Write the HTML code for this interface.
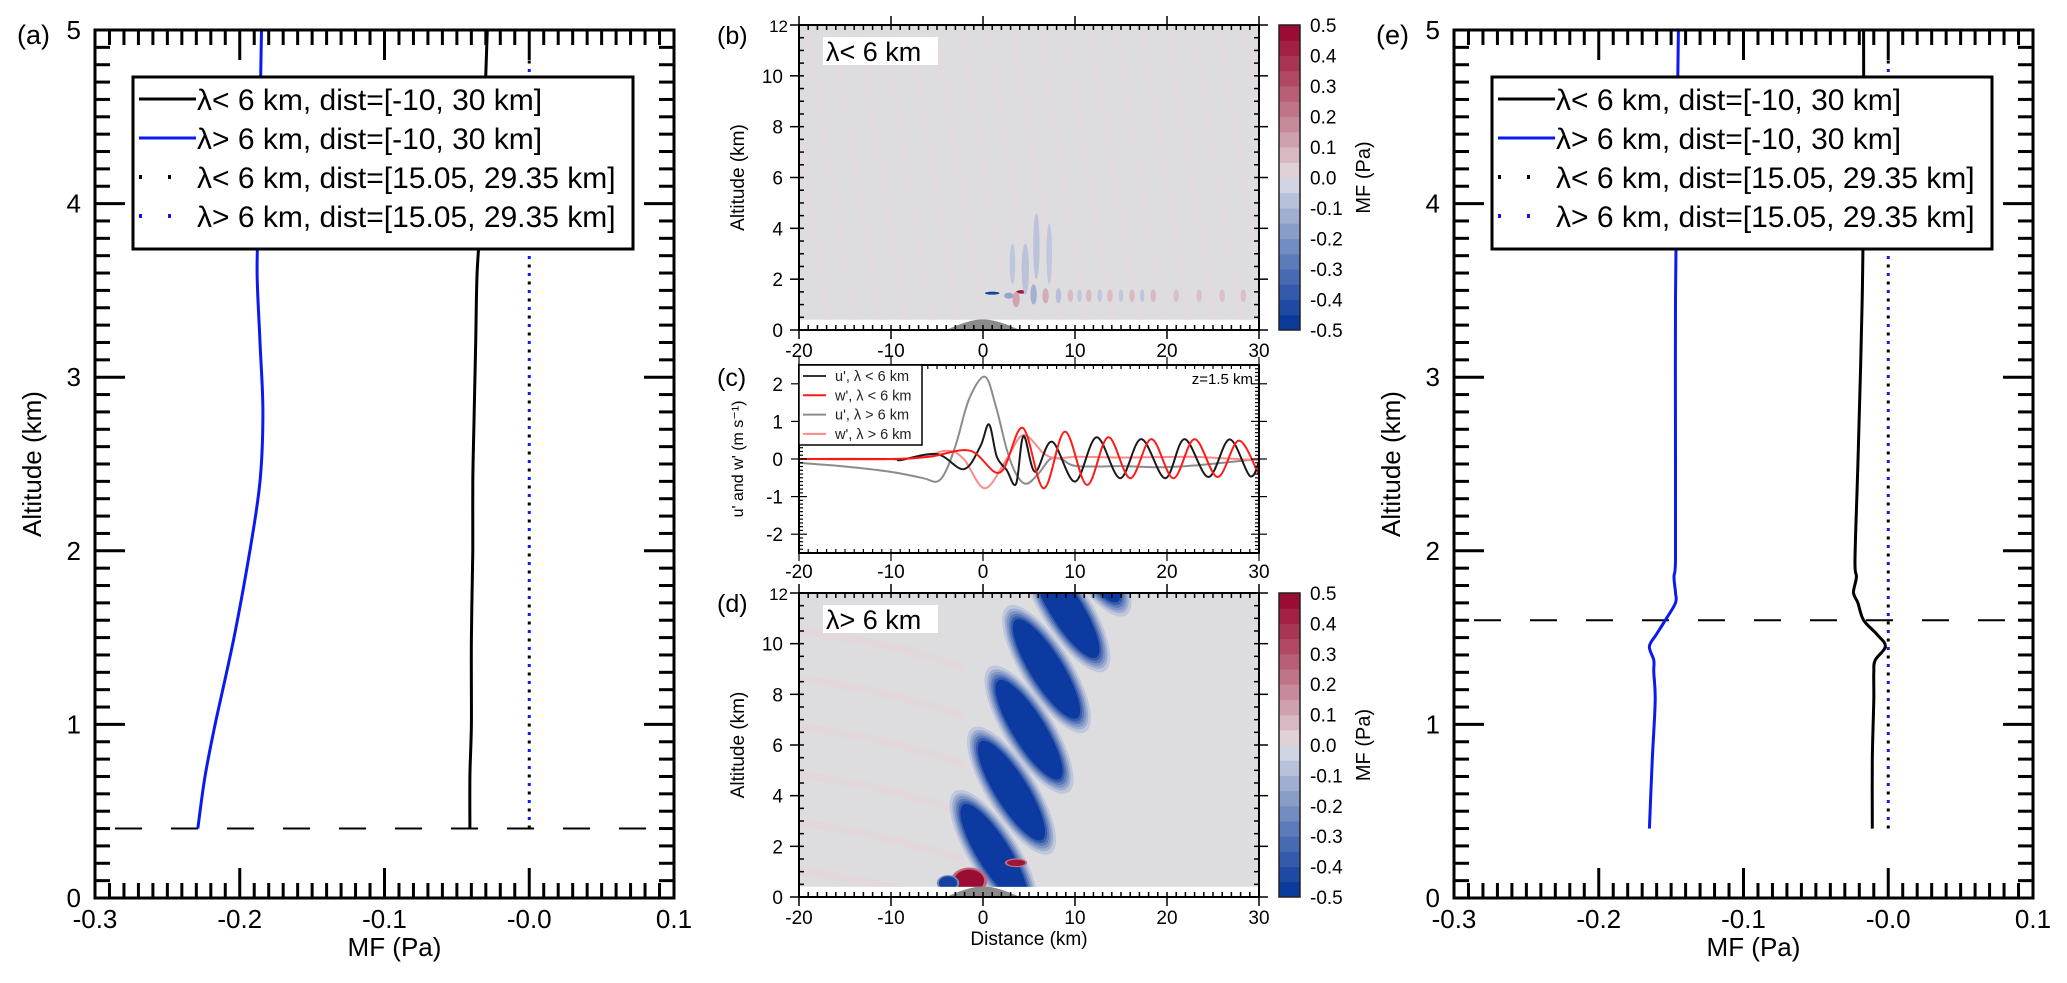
<!DOCTYPE html>
<html><head><meta charset="utf-8">
<style>
html,body{margin:0;padding:0;background:#fff;}
svg{display:block;font-family:"Liberation Sans","DejaVu Sans",sans-serif;}
</style></head>
<body>
<svg id="fig" width="2067" height="983" viewBox="0 0 2067 983" xmlns="http://www.w3.org/2000/svg"></svg>
<script>
// ---------- Panel (a) data ----------
const aZ      = [0.4, 0.7, 1.0, 1.5, 2.0, 2.4, 2.8, 3.2, 3.6, 4.0, 4.5, 5.0];
const aBlue   = [-0.229,-0.224,-0.217,-0.204,-0.193,-0.186,-0.184,-0.186,-0.188,-0.187,-0.186,-0.185];
const aBlack  = [-0.041,-0.041,-0.040,-0.040,-0.039,-0.039,-0.038,-0.037,-0.036,-0.033,-0.031,-0.029];
const aDotZ   = [0.4, 4.85];
const aDotX   = [0.0, 0.0];
const aDashZ  = 0.4;
// ---------- Panel (e) data ----------
const eZ      = [0.4, 0.8, 1.14, 1.3, 1.37, 1.45, 1.52, 1.6, 1.7, 1.76, 1.85, 1.95, 2.5, 3.45, 4.3, 5.0];
const eBlack  = [-0.011,-0.011,-0.010,-0.010,-0.009,-0.002,-0.008,-0.017,-0.021,-0.024,-0.022,-0.023,-0.021,-0.018,-0.017,-0.017];
const eBlue   = [-0.165,-0.163,-0.161,-0.162,-0.162,-0.165,-0.160,-0.154,-0.147,-0.147,-0.148,-0.147,-0.147,-0.147,-0.146,-0.145];
const eDotZ   = [0.4, 4.85];
const eDotX   = [0.0, 0.0];
const eDashZ  = 1.6;
// ---------- Panel (c) data ----------
const cGrayX  = [-20,-15,-10.1,-6.5,-5.0,-4.0,-2.9,-1.5,0.2,1.4,2.6,3.6,4.7,6.0,7.3,8.5,10.2,15.2,18.9,22.5,26.1,30];
const cGrayY  = [-0.1,-0.2,-0.34,-0.51,-0.6,-0.3,0.42,1.6,2.19,1.4,0.24,-0.4,-0.66,-0.4,0,0,-0.19,-0.19,-0.22,-0.18,-0.1,0];
const cBlackX = [-20,-10,-9,-5.0,-2.1,-0.3,0.65,1.5,2.57,3.6,4.4,5.65,7.5,10.0,12.35,14.9,17.2,19.8,21.9,24.5,26.8,29.0,30];
const cBlackY = [0,0,-0.03,0.13,-0.27,0.33,0.92,0.06,-0.29,-0.66,0.61,-0.34,0.46,-0.6,0.58,-0.51,0.53,-0.51,0.53,-0.48,0.52,-0.45,-0.07];
const cRedX   = [-20,-10,-5.8,-1.4,1.85,4.3,6.6,8.9,11.3,13.6,16.0,18.3,20.7,23.0,25.5,27.8,30];
const cRedY   = [0,0,0.06,0.22,-0.36,0.83,-0.78,0.73,-0.69,0.58,-0.51,0.53,-0.51,0.53,-0.48,0.49,-0.43];
const cPinkX  = [-20,-8,-4,-2.1,0.2,2.57,4.4,6.6,8.0,10.2,15.2,22.5,26,30];
const cPinkY  = [0,0.01,0.22,0,-0.78,0,0.64,0.15,0.02,0.06,0.04,0.06,0.02,-0.03];
// ---------- Panel (b) features: x(km), z(km), MF(Pa), half-width(km), half-height(km) ----------
const bX  = [1.0, 2.8, 4.2, 5.5, 6.8, 8.2, 4.6, 3.6, 9.5, 11.5, 13.8, 16.2, 18.5, 21, 23.5, 26, 28.3, 10.5, 12.7, 15, 17.3, 5.8, 7.2, 3.2];
const bZ  = [1.45,1.35,1.5, 1.4, 1.35,1.35,2.4, 1.2, 1.35,1.35, 1.35, 1.35, 1.35,1.35,1.35,1.35,1.35, 1.35, 1.35, 1.35, 1.35, 3.3, 3.0, 2.6];
const bV  = [-0.45,-0.15,0.45,-0.12,0.1,-0.08,-0.07,0.12, 0.07, 0.07, 0.07, 0.07, 0.07,0.06,0.06,0.06,0.06,-0.06,-0.06,-0.06,-0.06,-0.07,-0.06,-0.06];
const bRX = [0.8, 0.5, 0.6, 0.35,0.35,0.3, 0.4, 0.4, 0.3, 0.3, 0.3, 0.3, 0.3, 0.3,0.3,0.3,0.3, 0.25,0.25,0.25,0.25,0.35,0.3,0.3];
const bRZ = [0.06,0.12,0.07,0.4, 0.3, 0.3, 1.0, 0.3, 0.25,0.25, 0.25, 0.25, 0.25,0.25,0.25,0.25,0.25, 0.25,0.25,0.25,0.25,1.3,1.2,0.8];
// ---------- Panel (d) features ----------
const dX  = [1.2, 3.1, 5.0, 6.9, 9.0, 11.3, -1.5, 3.6, -3.8];
const dZ  = [1.7, 4.2, 6.6, 9.0, 11.4, 13.6, 0.65, 1.35, 0.55];
const dV  = [-0.5,-0.5,-0.5,-0.5,-0.5,-0.5, 0.5, 0.45,-0.45];
// ---------- Colorbar ----------
const cbTicks = ["0.5","0.4","0.3","0.2","0.1","0.0","-0.1","-0.2","-0.3","-0.4","-0.5"];
const cbLevels = [-0.5,-0.45,-0.4,-0.35,-0.3,-0.25,-0.2,-0.15,-0.1,-0.05,0,0.05,0.1,0.15,0.2,0.25,0.3,0.35,0.4,0.45];
// ---------- Axis tick labels ----------
const aeXTicks = [-0.3,-0.2,-0.1,0.0,0.1];
const aeXLabels = ["-0.3","-0.2","-0.1","-0.0","0.1"];
const aeYTicks = [0,1,2,3,4,5];
const bdXTicks = [-20,-10,0,10,20,30];
const bdYTicks = [0,2,4,6,8,10,12];
const cYTicks = [2,1,0,-1,-2];

const NS="http://www.w3.org/2000/svg";
const fig=document.getElementById('fig');
function mk(tag,attrs,parent){const el=document.createElementNS(NS,tag);for(const k in attrs)el.setAttribute(k,attrs[k]);(parent||fig).appendChild(el);return el;}
function txt(s,attrs,parent){const t=mk('text',attrs,parent);t.textContent=s;return t;}
function smooth(pts){
  if(pts.length<3){return 'M'+pts.map(p=>p[0].toFixed(1)+','+p[1].toFixed(1)).join('L');}
  let d='M'+pts[0][0].toFixed(1)+','+pts[0][1].toFixed(1);
  for(let i=0;i<pts.length-1;i++){
    const p0=pts[i-1]||pts[i],p1=pts[i],p2=pts[i+1],p3=pts[i+2]||p2;
    const c1=[p1[0]+(p2[0]-p0[0])/6,p1[1]+(p2[1]-p0[1])/6];
    const c2=[p2[0]-(p3[0]-p1[0])/6,p2[1]-(p3[1]-p1[1])/6];
    d+='C'+c1[0].toFixed(1)+','+c1[1].toFixed(1)+' '+c2[0].toFixed(1)+','+c2[1].toFixed(1)+' '+p2[0].toFixed(1)+','+p2[1].toFixed(1);
  }
  return d;
}
function lerp(a,b,t){return a.map((v,i)=>Math.round(v+(b[i]-v)*t));}
function color(v){
  const neg0=[224,225,232],negE=[10,58,156],pos0=[230,224,226],posE=[155,12,50];
  if(v<0){const t=Math.min(1,(-v)/0.475);return 'rgb('+lerp(neg0,negE,Math.pow(t,0.9)).join(',')+')';}
  const t=Math.min(1,v/0.475);return 'rgb('+lerp(pos0,posE,Math.pow(t,0.9)).join(',')+')';
}
const BG='rgb(221,221,223)';

// ============ Panels (a) and (e) ============
function profilePanel(ox,name,label,Z,Blue,Black,DotZ,DotX,dashZ){
  const L=ox,R=ox+579,T=30,B=898;
  const g=mk('g',{});
  
  
  const X=v=>L+(v+0.3)/0.4*579, Y=z=>B-z*173.6;
  const dash=mk('line',{x1:L,x2:R,y1:Y(dashZ),y2:Y(dashZ),stroke:'#000','stroke-width':2,'stroke-dasharray':'27 29','stroke-dashoffset':-20},g);
  
  
  const bl=mk('path',{d:smooth(Z.map((z,i)=>[X(Blue[i]),Y(z)])),fill:'none',stroke:'#0a1af0','stroke-width':3},g);
  
  
  const bk=mk('path',{d:smooth(Z.map((z,i)=>[X(Black[i]),Y(z)])),fill:'none',stroke:'#000','stroke-width':3},g);
  
  
  const dk=mk('line',{x1:X(DotX[0]),x2:X(DotX[1]),y1:Y(DotZ[0]),y2:Y(DotZ[1]),stroke:'#000','stroke-width':3,'stroke-dasharray':'3 14'},g);
  
  
  const db=mk('line',{x1:X(DotX[0]),x2:X(DotX[1]),y1:Y(DotZ[0]),y2:Y(DotZ[1]),stroke:'#0a1af0','stroke-width':3,'stroke-dasharray':'3 14','stroke-dashoffset':8.5},g);
  
  
  const tg=mk('g',{stroke:'#000','stroke-width':3},g);
  
  
  for(let i=0;i<=40;i++){const x=L+i*579/40;const len=(i%10===0)?30:15;
    mk('line',{x1:x,x2:x,y1:B,y2:B-len},tg);mk('line',{x1:x,x2:x,y1:T,y2:T+len},tg);}
  for(let i=0;i<=50;i++){const y=B-i*173.6/10;const len=(i%10===0)?30:15;
    mk('line',{x1:L,x2:L+len,y1:y,y2:y},tg);mk('line',{x1:R,x2:R-len,y1:y,y2:y},tg);}
  const fr=mk('rect',{x:L,y:T,width:579,height:B-T,fill:'none',stroke:'#000','stroke-width':3},g);
  
  
  aeXTicks.forEach((v,i)=>{const t=txt(aeXLabels[i],{x:X(v),y:928,'font-size':26,'text-anchor':'middle'},g);
    
    });
  aeYTicks.forEach(v=>{const t=txt(String(v),{x:L-14,y:Y(v)+9,'font-size':26,'text-anchor':'end'},g);
    
    });
  const xl=txt('MF (Pa)',{x:(L+R)/2+10,y:956,'font-size':26,'text-anchor':'middle'},g);
  
  
  const yl=txt('Altitude (km)',{x:0,y:0,'font-size':26,'text-anchor':'middle',transform:'translate('+(L-54)+','+((T+B)/2)+') rotate(-90)'},g);
  
  
  const pl=txt(label,{x:L-78,y:44,'font-size':27},g);
  
  
  const lg=mk('g',{},g);
  
  
  const lx=L+38;
  mk('rect',{x:lx,y:77,width:500,height:172,fill:'#fff',stroke:'#000','stroke-width':3},lg);
  const rows=[['λ< 6 km, dist=[-10, 30 km]','#000',''],['λ> 6 km, dist=[-10, 30 km]','#0a1af0',''],
              ['λ< 6 km, dist=[15.05, 29.35 km]','#000','3 26'],['λ> 6 km, dist=[15.05, 29.35 km]','#0a1af0','3 26']];
  rows.forEach((r,i)=>{const y=99+i*39;
    const e=mk('g',{},lg);
    
    
    mk('line',{x1:lx+6,x2:lx+63,y1:y,y2:y,stroke:r[1],'stroke-width':r[2]?4:3,'stroke-dasharray':r[2]||'none'},e);
    txt(r[0],{x:lx+64,y:y+11,'font-size':30},e);});
}
profilePanel(95,'panel-a','(a)',aZ,aBlue,aBlack,aDotZ,aDotX,aDashZ);
profilePanel(1454,'panel-e','(e)',eZ,eBlue,eBlack,eDotZ,eDotX,eDashZ);

// ============ Contour panels (b) and (d) ============
const xB=d=>799+(d+20)*9.2;
function colorbar(T,B,name){
  const g=mk('g',{});
  
  
  const h=(B-T)/cbLevels.length;
  cbLevels.forEach((lv,i)=>{mk('rect',{x:1279,y:B-(i+1)*h,width:21,height:h+0.5,fill:color(lv+0.025)},g);});
  mk('rect',{x:1279,y:T,width:21,height:B-T,fill:'none',stroke:'#222','stroke-width':1.5},g);
  cbTicks.forEach((s,i)=>{const t=txt(s,{x:1310,y:T+i*(B-T)/10+7,'font-size':19},g);
    
    });
  const tl=txt('MF (Pa)',{x:0,y:0,'font-size':20,'text-anchor':'middle',transform:'translate(1370,'+((T+B)/2)+') rotate(-90)'},g);
  
  
}
function contourFrame(T,B,name,label,tag,xlabels,xtitle){
  const g=mk('g',{});
  
  
  const Y=z=>B-z*(B-T)/12;
  const mt=mk('path',{d:'M'+xB(-4)+','+B+' Q'+xB(-1.5)+','+(Y(0.42))+' '+xB(0)+','+Y(0.42)+' Q'+xB(1.5)+','+Y(0.42)+' '+xB(4)+','+B+'Z',fill:'#8a8a8a'},g);
  
  
  const tg=mk('g',{stroke:'#000','stroke-width':1.5},g);
  for(let d=-20;d<=30;d++){const x=xB(d);const maj=d%10===0;
    mk('line',{x1:x,x2:x,y1:B+(maj?9:0),y2:B-5},tg);mk('line',{x1:x,x2:x,y1:T-(maj?9:0),y2:T+5},tg);}
  for(let z=0;z<=24;z++){const y=Y(z/2);const maj=z%4===0;
    mk('line',{x1:799-(maj?9:0),x2:804,y1:y,y2:y},tg);mk('line',{x1:1259+(maj?9:0),x2:1254,y1:y,y2:y},tg);}
  mk('rect',{x:799,y:T,width:460,height:B-T,fill:'none',stroke:'#000','stroke-width':2},g);
  bdYTicks.forEach(v=>{const t=txt(String(v),{x:v===12?788:783,y:Y(v)+7,'font-size':v===12?17:19,'text-anchor':'end'},g);
    
    });
  if(xlabels){bdXTicks.forEach(v=>{const t=txt(String(v),{x:xB(v),y:B+27,'font-size':19,'text-anchor':'middle'},g);
    
    });}
  if(xtitle){const t=txt('Distance (km)',{x:xB(5),y:B+48,'font-size':19,'text-anchor':'middle'},g);
    
    }
  const yl=txt('Altitude (km)',{x:0,y:0,'font-size':19,'text-anchor':'middle',transform:'translate(744,'+((T+B)/2)+') rotate(-90)'},g);
  
  
  const pl=txt(label,{x:717,y:T+19,'font-size':25},g);
  
  
  mk('rect',{x:823,y:T+12,width:115,height:28,fill:'#fff'},g);
  const tt=txt(tag,{x:826,y:T+36,'font-size':27},g);
  
  
}
// panel b
(function(){
  const T=25,B=330,Y=z=>B-z*(B-T)/12;
  const g=mk('g',{});
  
  
  const cp=mk('clipPath',{id:'clipb'},g);mk('rect',{x:799,y:T,width:460,height:Y(0.4)-T},cp);
  const inner=mk('g',{'clip-path':'url(#clipb)'},g);
  mk('rect',{x:799,y:T,width:460,height:B-T,fill:BG},inner);
  for(let i=0;i<20;i++){const x0=xB(-22+i*2.8);mk('path',{d:'M'+x0+','+T+' L'+(x0+50)+','+B,stroke:'rgb(226,219,222)','stroke-width':5,fill:'none',opacity:0.8},inner);}
  bX.forEach((x,i)=>{const e=mk('ellipse',{cx:xB(x),cy:Y(bZ[i]),rx:bRX[i]*9.2,ry:bRZ[i]*(B-T)/12,fill:color(bV[i])},inner);
    
    });
  mk('rect',{x:799,y:Y(0.4),width:460,height:B-Y(0.4),fill:'#fff'},g);
  contourFrame(T,B,'panel-b','(b)','λ< 6 km',true,false);
  colorbar(T,B,'colorbar-b');
})();
// panel d
(function(){
  const T=593,B=897,Y=z=>B-z*(B-T)/12;
  const g=mk('g',{});
  
  
  const cp=mk('clipPath',{id:'clipd'},g);mk('rect',{x:799,y:T,width:460,height:Y(0.4)-T},cp);
  const inner=mk('g',{'clip-path':'url(#clipd)'},g);
  mk('rect',{x:799,y:T,width:460,height:B-T,fill:BG},inner);
  for(let i=0;i<6;i++){mk('path',{d:'M'+xB(-20)+','+Y(1+i*1.9)+' Q'+xB(-10)+','+Y(0.6+i*1.9)+' '+xB(-2)+','+Y(-0.5+i*1.9),stroke:'rgb(226,216,220)','stroke-width':8,fill:'none'},inner);}
  dX.forEach((x,i)=>{
    const v=dV[i];const cx=xB(x),cy=Y(dZ[i]);
    const big=v<=-0.5;
    const grp=mk('g',{transform:'translate('+cx+','+cy+') rotate('+(big?58:0)+')'},inner);
    
    
    if(big){
      const halos=[[16,-0.06],[12,-0.13],[9,-0.2],[6,-0.28],[3,-0.37]];
      halos.forEach(s=>mk('ellipse',{cx:0,cy:0,rx:58+s[0],ry:16+s[0]*0.55,fill:color(s[1])},grp));
      mk('ellipse',{cx:0,cy:0,rx:58,ry:16,fill:'rgb(12,58,160)'},grp);
    } else {
      const r=v>0?(i===6?13:8):8;
      mk('ellipse',{cx:0,cy:0,rx:r*1.4,ry:r*(i===7?0.55:1.0),fill:color(v*0.5)},grp);
      mk('ellipse',{cx:0,cy:0,rx:r*1.15,ry:r*(i===7?0.4:0.85),fill:color(v)},grp);
    }
  });
  mk('rect',{x:799,y:Y(0.4),width:460,height:B-Y(0.4),fill:'#fff'},g);
  contourFrame(T,B,'panel-d','(d)','λ> 6 km',true,true);
  colorbar(T,B,'colorbar-d');
})();

// ============ Panel (c) ============
(function(){
  const T=365,B=553,Y=v=>459-v*37.6;
  const g=mk('g',{});
  
  
  const cp=mk('clipPath',{id:'clipc'},g);mk('rect',{x:799,y:T,width:460,height:B-T},cp);
  const inner=mk('g',{'clip-path':'url(#clipc)'},g);
  const series=[[cGrayX,cGrayY,'#8c8c8c','line-u-lambda-gt-6km'],[cPinkX,cPinkY,'#ff8a8a','line-w-lambda-gt-6km'],
                [cBlackX,cBlackY,'#1a1a1a','line-u-lambda-lt-6km'],[cRedX,cRedY,'#ff1a1a','line-w-lambda-lt-6km']];
  series.forEach(s=>{const p=mk('path',{d:smooth(s[0].map((x,i)=>[xB(x),Y(s[1][i])])),fill:'none',stroke:s[2],'stroke-width':2},inner);
    
    });
  const tg=mk('g',{stroke:'#000','stroke-width':1.2},g);
  
  
  for(let d=-20;d<=30;d++){const x=xB(d);const maj=d%10===0;
    mk('line',{x1:x,x2:x,y1:B+(maj?8:0),y2:B-4},tg);mk('line',{x1:x,x2:x,y1:T-(maj?8:0),y2:T+4},tg);}
  for(let k=-25;k<=25;k++){const y=Y(k/10);const maj=k%10===0;
    mk('line',{x1:799-(maj?8:0),x2:(maj?807:803),y1:y,y2:y},tg);mk('line',{x1:1259+(maj?8:0),x2:(maj?1251:1255),y1:y,y2:y},tg);}
  mk('rect',{x:799,y:T,width:460,height:B-T,fill:'none',stroke:'#000','stroke-width':2},g);
  cYTicks.forEach(v=>{const t=txt(String(v),{x:783,y:Y(v)+7,'font-size':19,'text-anchor':'end'},g);
    
    });
  bdXTicks.forEach(v=>{const t=txt(String(v),{x:xB(v),y:B+25,'font-size':19,'text-anchor':'middle'},g);
    
    });
  const yl=txt("u' and w' (m s\u207B\u00B9)",{x:0,y:0,'font-size':16,'text-anchor':'middle',transform:'translate(743,459) rotate(-90)'},g);
  
  
  const pl=txt('(c)',{x:717,y:386,'font-size':25},g);
  
  
  const zt=txt('z=1.5 km',{x:1253,y:384,'font-size':15,'text-anchor':'end'},g);
  
  
  const lg=mk('g',{},g);
  
  
  mk('rect',{x:799,y:365,width:123,height:80,fill:'#fff',stroke:'#000','stroke-width':1.5},lg);
  const rows=[["u', λ < 6 km",'#333'],["w', λ < 6 km",'#ff1a1a'],["u', λ > 6 km",'#8c8c8c'],["w', λ > 6 km",'#ff8a8a']];
  rows.forEach((r,i)=>{const y=376+i*19.3;
    const e=mk('g',{},lg);
    
    
    mk('line',{x1:803,x2:826,y1:y,y2:y,stroke:r[1],'stroke-width':2},e);
    txt(r[0],{x:835,y:y+5,'font-size':14.5,fill:'#222'},e);});
})();
</script>
</body></html>
